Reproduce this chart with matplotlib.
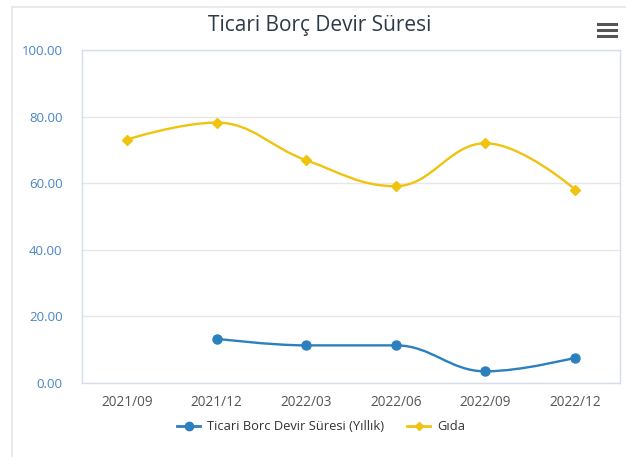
import numpy as np
import matplotlib.pyplot as plt
from matplotlib.path import Path
from matplotlib.patches import PathPatch, Rectangle
from matplotlib.lines import Line2D

plt.rcParams['font.family'] = ['Open Sans', 'DejaVu Sans']

categories = ['2021/09', '2021/12', '2022/03', '2022/06', '2022/09', '2022/12']
ticari = [None, 13.3, 11.3, 11.3, 3.5, 7.6]
gida = [73.1, 78.2, 66.9, 59.1, 72.0, 58.1]

blue = '#2b80bd'
yellow = '#f0c30f'


def spline_path(xs, ys, smoothing=1.5):
    # highcharts style spline through the points
    denom = smoothing + 1
    n = len(xs)
    left = [None] * n
    right = [None] * n
    for i in range(n):
        x, y = xs[i], ys[i]
        if i == 0 or i == n - 1:
            left[i] = (x, y)
            right[i] = (x, y)
            continue
        lx, ly = xs[i - 1], ys[i - 1]
        nx, ny = xs[i + 1], ys[i + 1]
        lcx = (smoothing * x + lx) / denom
        lcy = (smoothing * y + ly) / denom
        rcx = (smoothing * x + nx) / denom
        rcy = (smoothing * y + ny) / denom
        if rcx != lcx:
            corr = (rcy - lcy) * (rcx - x) / (rcx - lcx) + y - rcy
            lcy += corr
            rcy += corr
        if lcy > ly and lcy > y:
            lcy = max(ly, y)
            rcy = 2 * y - lcy
        elif lcy < ly and lcy < y:
            lcy = min(ly, y)
            rcy = 2 * y - lcy
        if rcy > ny and rcy > y:
            rcy = max(ny, y)
            lcy = 2 * y - rcy
        elif rcy < ny and rcy < y:
            rcy = min(ny, y)
            lcy = 2 * y - rcy
        left[i] = (lcx, lcy)
        right[i] = (rcx, rcy)
    verts = [(xs[0], ys[0])]
    codes = [Path.MOVETO]
    for i in range(1, n):
        verts += [right[i - 1], left[i], (xs[i], ys[i])]
        codes += [Path.CURVE4] * 3
    return Path(verts, codes)


fig = plt.figure(figsize=(6.26, 4.57), dpi=100)
fig.add_artist(Rectangle((12 / 626, -0.1), 1.2, 1.1 - 7 / 457, transform=fig.transFigure,
                         facecolor='white', edgecolor='#e6e6e6', lw=1.2, zorder=-10))
ax = fig.add_axes([82 / 626, 1 - 383 / 457, 538 / 626, 333 / 457])
ax.set_facecolor('none')

x = np.arange(len(categories))

xb = [i for i, v in enumerate(ticari) if v is not None]
yb = [v for v in ticari if v is not None]
ax.add_patch(PathPatch(spline_path(xb, yb), facecolor='none', edgecolor=blue, lw=1.7, zorder=3))
ax.plot(xb, yb, ls='none', marker='o', ms=6.5, color=blue, zorder=4)

ax.add_patch(PathPatch(spline_path(list(x), gida), facecolor='none', edgecolor=yellow, lw=1.7, zorder=3))
ax.plot(x, gida, ls='none', marker='D', ms=5, color=yellow, zorder=4)

ax.set_xlim(-0.5, len(categories) - 0.5)
ax.set_ylim(0, 100)
ax.set_yticks([0, 20, 40, 60, 80, 100])
ax.set_yticklabels(['%.2f' % v for v in [0, 20, 40, 60, 80, 100]])
ax.set_xticks(x)
ax.set_xticklabels(categories)
ax.tick_params(axis='y', length=0, pad=14, labelsize=9.5, labelcolor='#4a84c6')
ax.tick_params(axis='x', length=0, pad=9, labelsize=9.8, labelcolor='#555555')
ax.grid(axis='y', color='#e6e6e6', lw=1)
ax.set_axisbelow(True)
for s in ax.spines.values():
    s.set_color('#d5dcef')
    s.set_linewidth(1)

fig.text(320 / 626, 1 - 25 / 457, 'Ticari Borç Devir Süresi', ha='center', va='center',
         fontsize=15, color='#2d3a48')

# menu icon
for yy in [24, 30, 36]:
    fig.add_artist(Line2D([598 / 626, 616 / 626], [1 - yy / 457] * 2, color='#555555',
                          lw=2.2, transform=fig.transFigure))

handles = [Line2D([], [], color=blue, lw=2, marker='o', ms=6),
           Line2D([], [], color=yellow, lw=2, marker='D', ms=4.5)]
fig.legend(handles, ['Ticari Borc Devir Süresi (Yıllık)', 'Gıda'], loc='center',
           bbox_to_anchor=(321 / 626, 1 - 427 / 457), ncol=2, frameon=False, fontsize=9.3,
           labelcolor='#333333', handlelength=1.8, columnspacing=1.8, handletextpad=0.5)

fig.savefig('out.png', dpi=100)
